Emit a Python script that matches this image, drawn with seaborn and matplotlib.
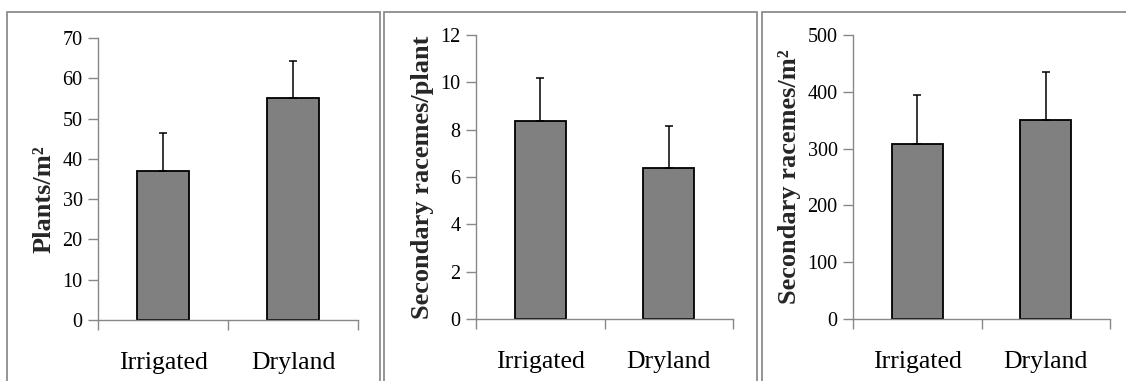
import matplotlib
matplotlib.use("Agg")
import matplotlib.pyplot as plt
from matplotlib.patches import Rectangle
import seaborn as sns
import pandas as pd
import numpy as np

# ---- data ----
categories = ["Irrigated", "Dryland"]
plants_m2 = [36.9, 55.0]
plants_m2_err = [9.4, 9.3]
racemes_plant = [8.35, 6.4]
racemes_plant_err = [1.85, 1.75]
racemes_m2 = [308, 351]
racemes_m2_err = [87, 84]

ylabels = ["Plants/m\u00b2", "Secondary racemes/plant", "Secondary racemes/m\u00b2"]
yticks_list = [np.arange(0, 71, 10), np.arange(0, 13, 2), np.arange(0, 501, 100)]
ylims = [(0, 70), (0, 12), (0, 500)]
label_y = [0.43, 0.5, 0.5]

sns.set_theme(style="white")
plt.rcParams["font.family"] = ["Liberation Serif", "DejaVu Serif"]

fig = plt.figure(figsize=(11.26, 3.81), dpi=100)
W, H = 1126.0, 381.0

# panel frames (pixel coords)
frames = [(7, 380), (384, 757), (762, 1140)]
for x0, x1 in frames:
    fig.add_artist(Rectangle((x0 / W, -0.1), (x1 - x0) / W, 1 - 12 / H + 0.1,
                             transform=fig.transFigure, fill=False,
                             edgecolor="#8c8c8c", linewidth=1.3))

# axes positions (pixel coords): left, right, top, bottom(zero)
axes_px = [(98, 358, 38, 320), (476, 733, 35, 319), (853, 1110, 35, 319)]
vals = [plants_m2, racemes_plant, racemes_m2]
errs = [plants_m2_err, racemes_plant_err, racemes_m2_err]
axis_gray = "#888888"

for i in range(3):
    l, r, t, b = axes_px[i]
    ax = fig.add_axes([l / W, 1 - b / H, (r - l) / W, (b - t) / H])
    df = pd.DataFrame({"cat": categories, "val": vals[i]})
    sns.barplot(data=df, x="cat", y="val", ax=ax, width=0.4, color="#808080",
                saturation=1, edgecolor="black", linewidth=1.3, errorbar=None)
    ax.errorbar(x=np.arange(len(categories)), y=vals[i],
                yerr=[np.zeros(len(categories)), errs[i]],
                fmt="none", ecolor="black", elinewidth=1.1, capsize=2.6,
                capthick=1.1, zorder=3)
    ax.set_xlim(-0.5, 1.5)
    ax.set_ylim(*ylims[i])
    ax.set_yticks(yticks_list[i])
    ax.set_yticklabels([str(v) for v in yticks_list[i]], fontsize=14.5)
    ax.set_xticks([0, 1])
    ax.set_xticklabels(categories, fontsize=18.5)
    ax.set_xticks([-0.5, 0.5, 1.5], minor=True)
    ax.tick_params(axis="x", which="major", length=0, pad=23, colors="black")
    ax.tick_params(axis="x", which="minor", length=7, width=1, color=axis_gray,
                   direction="out", bottom=True)
    ax.tick_params(axis="y", which="major", length=7, width=1, color=axis_gray,
                   direction="out", left=True, pad=4, labelcolor="black")
    ax.set_xlabel("")
    ax.set_ylabel(ylabels[i], fontsize=19, fontweight="bold", labelpad=5)
    ax.yaxis.label.set_y(label_y[i])
    for s in ["top", "right"]:
        ax.spines[s].set_visible(False)
    for s in ["left", "bottom"]:
        ax.spines[s].set_color(axis_gray)
        ax.spines[s].set_linewidth(1)
    ax.set_facecolor("none")

fig.savefig("out.png", dpi=100)
